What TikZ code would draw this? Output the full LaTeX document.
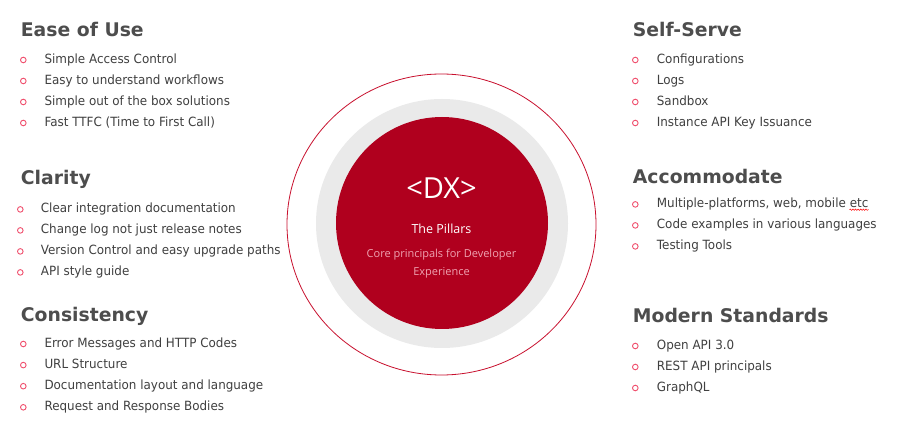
\documentclass[tikz,border=0pt]{standalone}
\usepackage{fontspec}
\setmainfont{DejaVu Sans}
\newfontfamily\entryfont[FakeStretch=0.94]{DejaVu Sans}
\newfontfamily\dxfont{Open Sans}
\usepackage{tikz}
\usetikzlibrary{calc,positioning,decorations.pathmorphing}
\definecolor{headgray}{HTML}{4D4D4D}
\definecolor{textgray}{HTML}{404040}
\definecolor{dxred}{HTML}{B0001E}
\definecolor{ringred}{HTML}{C8102E}
\definecolor{ringgray}{HTML}{EAEAEA}
\definecolor{bulletred}{HTML}{F0506E}
\definecolor{subpink}{HTML}{EFA3B1}
\tikzset{
	heading/.style={anchor=base west, inner sep=0, text=headgray, font=\fontsize{18.8}{22}\selectfont\bfseries},
	entry/.style={anchor=base west, inner sep=0, text=textgray, font=\entryfont\fontsize{12.7}{15}\selectfont},
	bullet/.style={circle, draw=bulletred, line width=0.9pt, minimum size=5.6pt, inner sep=0},
	subline/.style={anchor=base, inner sep=0, text=subpink, font=\dxfont\fontsize{11}{14}\selectfont},
}

\begin{document}
\begin{tikzpicture}[x=1pt,y=-1pt]
		\useasboundingbox (0,0) rectangle (908,438);
		\fill[white] (0,0) rectangle (908,438);
		
		% the circles in the middle
		\draw[ringred, line width=0.8pt] (441.5,224.5) ellipse (154.5 and 150.5);
		\fill[ringgray] (442,223.5) ellipse (126 and 124.5);
		\fill[dxred] (442,223) circle (106);
		
		\node[anchor=base, inner sep=0, text=white, font=\dxfont\fontsize{29}{32}\selectfont] (dx) at (441.5,198.3) {<DX>};
		\node[anchor=base, inner sep=0, text=white, font=\dxfont\fontsize{12.5}{15}\selectfont] (pillars) at (441.5,234) {The Pillars};
		\node[subline] (core) at (441.5,257.7) {Core principals for Developer};
		\node[subline] (experience) at (441.5,275.3) {Experience};
		
		% left column
		\node[heading] (ease) at (20.7,36.7) {Ease of Use};
		\foreach \txt [count=\i] in {Simple Access Control, Easy to understand workflows, Simple out of the box solutions, Fast TTFC (Time to First Call)}{
			\node[bullet] (ease-b\i) at (23.3,63.3+21*\i-21-3.3) {};
			\node[entry] (ease-\i) at (44.3,63.3+21*\i-21) {\txt};
		}
		
		\node[heading] (clarity) at (20.7,184.3) {Clarity};
		\foreach \txt [count=\i] in {Clear integration documentation, Change log not just release notes, Version Control and easy upgrade paths, API style guide}{
			\node[bullet] (clarity-b\i) at (20.3,212.7+21*\i-21-3.3) {};
			\node[entry] (clarity-\i) at (40.7,212.7+21*\i-21) {\txt};
		}
		
		\node[heading] (consistency) at (20.7,321.7) {Consistency};
		\foreach \txt [count=\i] in {Error Messages and HTTP Codes, URL Structure, Documentation layout and language, Request and Response Bodies}{
			\node[bullet] (consistency-b\i) at (23.3,347.3+21.1*\i-21.1-3.3) {};
			\node[entry] (consistency-\i) at (44.3,347.3+21.1*\i-21.1) {\txt};
		}
		
		% right column
		\node[heading] (selfserve) at (632.7,36.7) {Self-Serve};
		\foreach \txt [count=\i] in {Configurations, Logs, Sandbox, Instance API Key Issuance}{
			\node[bullet] (selfserve-b\i) at (635.3,63.3+21*\i-21-3.3) {};
			\node[entry] (selfserve-\i) at (656.7,63.3+21*\i-21) {\txt};
		}
		
		\node[heading] (accommodate) at (632.7,184) {Accommodate};
		\foreach \txt [count=\i] in {{Multiple-platforms, web, mobile etc}, Code examples in various languages, Testing Tools}{
			\node[bullet] (accommodate-b\i) at (635.3,207.7+21*\i-21-3.3) {};
			\node[entry] (accommodate-\i) at (656.7,207.7+21*\i-21) {\txt};
		}
		\draw[red, line width=0.5pt, decorate, decoration={snake, amplitude=0.7pt, segment length=2.6pt}] ($(accommodate-1.base east)+(-19,2)$) -- ($(accommodate-1.base east)+(0,2)$);
		
		\node[heading] (modern) at (632.7,322.3) {Modern Standards};
		\foreach \txt [count=\i] in {Open API 3.0, REST API principals, GraphQL}{
			\node[bullet] (modern-b\i) at (635.3,349.3+21*\i-21-3.3) {};
			\node[entry] (modern-\i) at (656.7,349.3+21*\i-21) {\txt};
		}
	\end{tikzpicture}
\end{document}
